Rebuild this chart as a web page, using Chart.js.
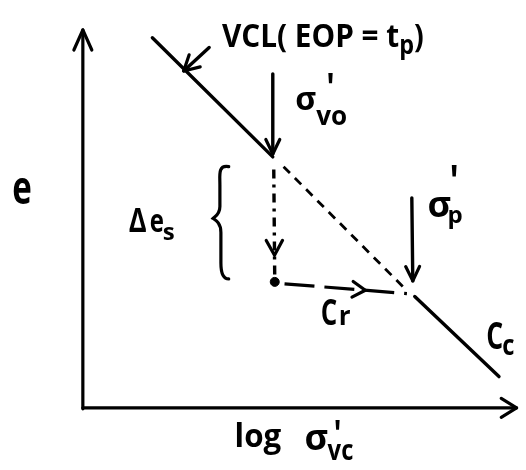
<!DOCTYPE html>
<html>
<head>
<meta charset="utf-8">
<script src="https://cdn.jsdelivr.net/npm/chart.js@4.4.1/dist/chart.umd.min.js"></script>
<style>
  html, body { margin: 0; padding: 0; background: #fff; }
  canvas { display: block; }
</style>
</head>
<body>
<canvas id="chart" width="526" height="470"></canvas>
<script>
// Schematic e – log σ'vc diagram: virgin compression line, unloading to the
// rest point and recompression back to the preconsolidation stress.
// Abscissa: log σ'vc (arbitrary units), ordinate: void ratio e (arbitrary units).

const verticalAxis   = [{x: 0,   y: 0},   {x: 0,   y: 388}];
const horizontalAxis = [{x: 0,   y: 1},   {x: 443, y: 1}];

const vclUpper  = [{x: 71,  y: 380}, {x: 194, y: 258}];
const vclHidden = [{x: 205, y: 248}, {x: 331, y: 121}];
const vclLower  = [{x: 339, y: 115}, {x: 425, y: 33}];

const unloadPath = [{x: 195, y: 245}, {x: 196, y: 131}];
const restPoint  = [{x: 196, y: 130}];
const crPath     = [{x: 206, y: 128}, {x: 331, y: 118}];

const sigmaVoArrow = [{x: 194, y: 343}, {x: 194, y: 261}];
const sigmaPArrow  = [{x: 336, y: 216}, {x: 337, y: 131}];
const vclPointer   = [{x: 129, y: 370}, {x: 103, y: 346}];

const braceEnds = [{x: 149, y: 248}, {x: 133, y: 195}, {x: 149, y: 133}];

// Text labels: anchor (baseline-left, data units) and the pieces of each label
const labelAnchors = {
  vcl:     {x: 142, y: 370},
  sigmaVo: {x: 217, y: 306},
  sigmaP:  {x: 352, y: 196},
  deltaEs: {x: 47,  y: 181},
  eAxis:   {x: -72, y: 210},
  cr:      {x: 243, y: 86},
  cc:      {x: 412, y: 61},
  xTitle:  {x: 155, y: -39}
};
const labelTexts = {
  vcl:     ['VCL( EOP = t', 'p', ')'],
  sigmaVo: ['σ', '\'', 'vo'],
  sigmaP:  ['σ', '\'', 'p'],
  deltaEs: ['Δ', 'e', 's'],
  eAxis:   ['e'],
  cr:      ['C', 'r'],
  cc:      ['C', 'c'],
  xTitle:  ['log', 'σ', '\'', 'vc']
};

const FONT = '"Open Sans", "DejaVu Sans", sans-serif';

// layout of each label's pieces: offsets (px) from the anchor, size, horizontal squeeze
const labelLayout = {
  vcl:     [{dx: 0,  dy: 0,   size: 32, sx: 0.93}, {dx: 'after', dy: 7, size: 26, sx: 0.9}, {dx: 'after', dy: 0, size: 32, sx: 0.9}],
  sigmaVo: [{dx: 0,  dy: 0,   size: 32}, {dx: 31, dy: -9, size: 40, sx: 0.8}, {dx: 21, dy: 15, size: 26}],
  sigmaP:  [{dx: 0,  dy: 0,   size: 36}, {dx: 22, dy: -20, size: 44, sx: 0.8}, {dx: 20, dy: 6,  size: 24}],
  deltaEs: [{dx: 0,  dy: 0,   size: 34, sx: 0.8}, {dx: 21, dy: 0, size: 32, sx: 0.75}, {dx: 34, dy: 8, size: 24}],
  eAxis:   [{dx: 0,  dy: 0,   size: 46, sx: 0.72}],
  cr:      [{dx: 0,  dy: 0,   size: 36, sx: 0.72}, {dx: 18, dy: 0, size: 26}],
  cc:      [{dx: 0,  dy: 0,   size: 38, sx: 0.7}, {dx: 16, dy: 6, size: 28, sx: 0.85}],
  xTitle:  [{dx: 0,  dy: 0,   size: 33, sx: 0.95}, {dx: 70, dy: 3, size: 36}, {dx: 99, dy: 0, size: 38, sx: 0.8}, {dx: 93, dy: 13, size: 28, sx: 0.85}]
};

function line(data, extra) {
  return Object.assign({
    data: data,
    showLine: true,
    borderColor: '#000',
    backgroundColor: '#000',
    borderWidth: 3.4,
    borderCapStyle: 'round',
    pointRadius: 0,
    clip: false
  }, extra || {});
}

// Draws open arrowheads on datasets that carry an `arrowAt` fraction along the line
const arrowHeads = {
  id: 'arrowHeads',
  afterDatasetsDraw(chart) {
    const ctx = chart.ctx;
    chart.data.datasets.forEach((ds, i) => {
      if (ds.arrowAt === undefined) return;
      const pts = chart.getDatasetMeta(i).data;
      const a = pts[0], b = pts[pts.length - 1];
      const t = ds.arrowAt;
      const tx = a.x + (b.x - a.x) * t, ty = a.y + (b.y - a.y) * t;
      const ang = Math.atan2(b.y - a.y, b.x - a.x);
      const len = ds.arrowLen || 16, spr = ds.arrowSpread || 0.45;
      ctx.save();
      ctx.strokeStyle = '#000';
      ctx.lineWidth = 3.2;
      ctx.lineCap = 'round';
      ctx.lineJoin = 'round';
      ctx.beginPath();
      ctx.moveTo(tx - len * Math.cos(ang - spr), ty - len * Math.sin(ang - spr));
      ctx.lineTo(tx, ty);
      ctx.lineTo(tx - len * Math.cos(ang + spr), ty - len * Math.sin(ang + spr));
      ctx.stroke();
      ctx.restore();
    });
  }
};

// Curly brace marking the change of void ratio Δe_s
const bracePlugin = {
  id: 'brace',
  afterDatasetsDraw(chart) {
    const xs = chart.scales.x, ys = chart.scales.y, ctx = chart.ctx;
    const p = braceEnds.map(d => ({x: xs.getPixelForValue(d.x), y: ys.getPixelForValue(d.y)}));
    const [top, tip, bot] = p;
    const mx = (top.x + tip.x) / 2 - 1;
    ctx.save();
    ctx.strokeStyle = '#000';
    ctx.lineWidth = 3.2;
    ctx.lineCap = 'round';
    ctx.beginPath();
    ctx.moveTo(top.x, top.y);
    ctx.bezierCurveTo(mx - 2, top.y - 2, mx, top.y + 8, mx, top.y + 18);
    ctx.lineTo(mx, tip.y - 12);
    ctx.bezierCurveTo(mx, tip.y - 4, tip.x + 2, tip.y - 2, tip.x, tip.y);
    ctx.bezierCurveTo(tip.x + 3, tip.y + 2, mx + 1, tip.y + 5, mx + 1, tip.y + 14);
    ctx.lineTo(mx + 1, bot.y - 16);
    ctx.bezierCurveTo(mx + 1, bot.y - 6, bot.x - 6, bot.y, bot.x, bot.y);
    ctx.stroke();
    ctx.restore();
  }
};

// Composite text labels with sub/superscripts
const labelPlugin = {
  id: 'labels',
  afterDatasetsDraw(chart) {
    const xs = chart.scales.x, ys = chart.scales.y, ctx = chart.ctx;
    ctx.save();
    ctx.fillStyle = '#000';
    ctx.textBaseline = 'alphabetic';
    ctx.textAlign = 'left';
    Object.keys(labelTexts).forEach(key => {
      const ax = xs.getPixelForValue(labelAnchors[key].x);
      const ay = ys.getPixelForValue(labelAnchors[key].y);
      let cursor = ax;
      labelTexts[key].forEach((txt, j) => {
        const L = labelLayout[key][j];
        const sx = L.sx || 1;
        ctx.font = 'bold ' + L.size + 'px ' + FONT;
        const x = L.dx === 'after' ? cursor : ax + L.dx;
        const y = ay + L.dy;
        ctx.save();
        ctx.translate(x, y);
        ctx.scale(sx, 1);
        ctx.fillText(txt, 0, 0);
        ctx.restore();
        cursor = x + ctx.measureText(txt).width * sx;
      });
    });
    ctx.restore();
  }
};

new Chart(document.getElementById('chart'), {
  type: 'scatter',
  data: {
    datasets: [
      line(verticalAxis,   {arrowAt: 1, arrowLen: 22, arrowSpread: 0.42, borderWidth: 3.2}),
      line(horizontalAxis, {arrowAt: 1, arrowLen: 18, arrowSpread: 0.55, borderWidth: 3.2}),
      line(vclUpper),
      line(vclHidden, {borderWidth: 2.8, borderDash: [9, 7], borderCapStyle: 'butt'}),
      line(vclLower),
      line(unloadPath, {borderWidth: 3.4, borderDash: [9, 6, 3, 6], borderCapStyle: 'butt', arrowAt: 0.77, arrowLen: 17, arrowSpread: 0.5}),
      {data: restPoint, pointRadius: 4.5, pointBackgroundColor: '#000', pointBorderColor: '#000', showLine: false, clip: false},
      line(crPath, {borderWidth: 3.2, borderDash: [30, 10], borderCapStyle: 'butt', arrowAt: 0.66, arrowLen: 15, arrowSpread: 0.55}),
      line(sigmaVoArrow, {arrowAt: 1, arrowLen: 16, arrowSpread: 0.45}),
      line(sigmaPArrow, {arrowAt: 1, arrowLen: 16, arrowSpread: 0.45}),
      line(vclPointer, {arrowAt: 1, arrowLen: 17, arrowSpread: 0.5})
    ]
  },
  options: {
    responsive: false,
    animation: false,
    events: [],
    layout: {padding: 0},
    plugins: {legend: {display: false}, tooltip: {enabled: false}},
    scales: {
      x: {type: 'linear', min: -79, max: 447, display: false},
      y: {type: 'linear', min: -57, max: 413, display: false}
    }
  },
  plugins: [arrowHeads, bracePlugin, labelPlugin]
});
</script>
</body>
</html>
